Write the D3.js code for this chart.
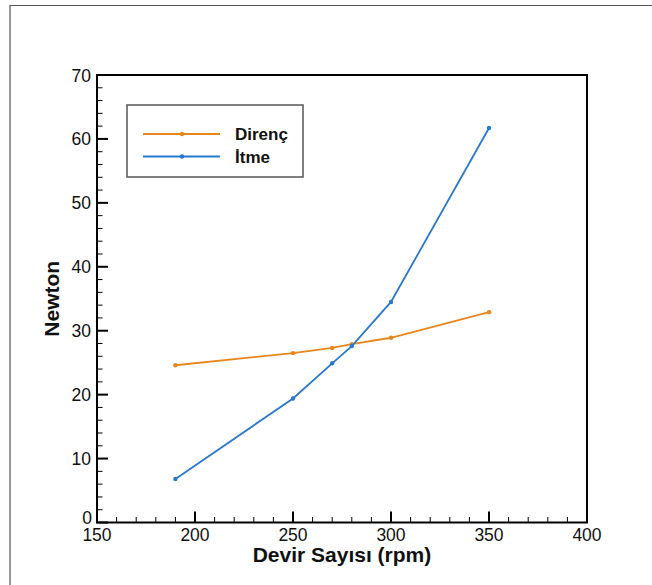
<!DOCTYPE html>
<html><head><meta charset="utf-8">
<script src="https://cdn.jsdelivr.net/npm/d3@7/dist/d3.min.js"></script>
<style>body{margin:0;background:#fff}svg{display:block}text{font-family:"Liberation Sans",Arial,sans-serif}</style>
</head><body><svg id="c" width="652" height="585"></svg>
<script>
const rpm = [190, 250, 270, 280, 300, 350];
const direnc = [24.6, 26.5, 27.3, 27.9, 28.9, 32.9];
const itme = [6.8, 19.4, 24.9, 27.6, 34.5, 61.7];
const seriesNames = ["Direnç", "İtme"];
const seriesColors = ["#E8861E", "#2878D0"];
const xTicks = [150, 200, 250, 300, 350, 400];
const yTicks = [0, 10, 20, 30, 40, 50, 60, 70];
const xLabel = "Devir Sayısı (rpm)";
const yLabel = "Newton";

const svg = d3.select("#c");
const L = 97, R = 587, T = 75, B = 522.5;
const x = d3.scaleLinear().domain([150, 400]).range([L, R]);
const y = d3.scaleLinear().domain([0, 70]).range([B, T]);

// page border
svg.append("path").attr("d", `M10,585 L10,5.5 L652,5.5`).attr("fill","none").attr("stroke","#555").attr("stroke-width",1.2);

// ticks
const g = svg.append("g");
d3.range(150, 401, 10).forEach(v => {
  const major = v % 50 === 0;
  g.append("line").attr("x1", x(v)).attr("x2", x(v)).attr("y1", B).attr("y2", B - (major ? 11 : 5.5))
    .attr("stroke", "#000").attr("stroke-width", major ? 2 : 1);
});
d3.range(0, 71, 2).forEach(v => {
  const major = v % 10 === 0;
  g.append("line").attr("x1", L).attr("x2", L + (major ? 11 : 5.5)).attr("y1", y(v)).attr("y2", y(v))
    .attr("stroke", "#000").attr("stroke-width", major ? 2 : 1);
});

// frame
svg.append("rect").attr("x", L).attr("y", T).attr("width", R - L).attr("height", B - T)
  .attr("fill", "none").attr("stroke", "#000").attr("stroke-width", 2);

// tick labels
xTicks.forEach(v => {
  svg.append("text").attr("x", x(v)).attr("y", B + 18).attr("text-anchor", "middle")
    .attr("font-size", 17.5).attr("fill", "#111").text(v);
});
yTicks.forEach(v => {
  svg.append("text").attr("x", v === 0 ? L - 5 : L - 6).attr("y", y(v) + (v === 0 ? 1.5 : 6.5)).attr("text-anchor", "end")
    .attr("font-size", 17.5).attr("fill", "#111").text(v);
});

// axis titles
svg.append("text").attr("x", (L + R) / 2).attr("y", 562).attr("text-anchor", "middle")
  .attr("font-size", 21).attr("font-weight", "bold").attr("fill", "#111").text(xLabel);
svg.append("text").attr("transform", `translate(59,${(T + B) / 2}) rotate(-90)`).attr("text-anchor", "middle")
  .attr("font-size", 21).attr("font-weight", "bold").attr("fill", "#111").text(yLabel);

// lines
const data = [direnc, itme];
const line = d3.line().x((d, i) => x(rpm[i])).y(d => y(d));
data.forEach((s, k) => {
  svg.append("path").datum(s).attr("d", line).attr("fill", "none")
    .attr("stroke", seriesColors[k]).attr("stroke-width", 1.8);
  svg.selectAll(null).data(s).enter().append("circle")
    .attr("cx", (d, i) => x(rpm[i])).attr("cy", d => y(d)).attr("r", 2.2).attr("fill", seriesColors[k]);
});

// legend
svg.append("rect").attr("x", 127).attr("y", 105).attr("width", 176).attr("height", 72)
  .attr("fill", "#fff").attr("stroke", "#555").attr("stroke-width", 1.5);
seriesNames.forEach((n, k) => {
  const ly = 134 + k * 22.5;
  svg.append("line").attr("x1", 143).attr("x2", 220).attr("y1", ly).attr("y2", ly)
    .attr("stroke", seriesColors[k]).attr("stroke-width", 1.8);
  svg.append("circle").attr("cx", 182).attr("cy", ly).attr("r", 2.2).attr("fill", seriesColors[k]);
  svg.append("text").attr("x", 235).attr("y", ly + 6).attr("font-size", 17).attr("font-weight", "bold")
    .attr("fill", "#111").text(n);
});
</script></body></html>
